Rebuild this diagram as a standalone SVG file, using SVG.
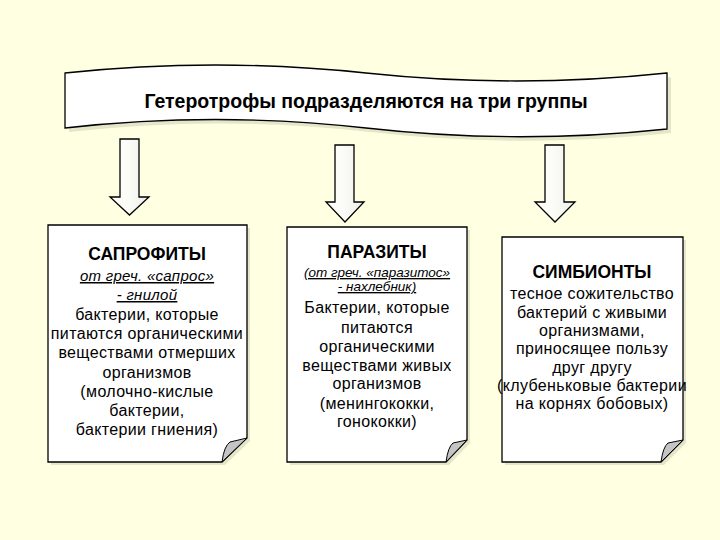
<svg xmlns="http://www.w3.org/2000/svg" width="720" height="540" viewBox="0 0 720 540">
<defs>
<linearGradient id="ag" x1="0" y1="0" x2="1" y2="0">
<stop offset="0" stop-color="#ffffff"/>
<stop offset="0.5" stop-color="#fbfbf6"/>
<stop offset="1" stop-color="#ececea"/>
</linearGradient>
</defs>
<style>
.bg{fill:#ffffe1}
.sh{fill:#000000;fill-opacity:0.1}
.ln{stroke:#000;stroke-width:1.3;stroke-linejoin:miter}
.note{fill:#ffffff}
.curl{fill:#c4c4c4;stroke:#000;stroke-width:1}
.arr{fill:url(#ag)}
text{font-family:"Liberation Sans",Arial,sans-serif;fill:#000;text-anchor:middle}
.h{font-weight:bold;font-size:19.5px}
.t{font-weight:bold;font-size:17.5px}
.b{font-size:16px;letter-spacing:0.35px}
.i{font-style:italic;text-decoration:underline;font-size:15px;letter-spacing:0.3px}
.i2{font-style:italic;text-decoration:underline;font-size:13.5px}
</style>
<rect class="bg" x="0" y="0" width="720" height="540"/>

<g id="banner">
<path class="sh" d="M69,77 Q219.5,61 370,77 T671,77 L671,133 Q520.5,149 370,132 T69,132 Z"/>
<path class="note ln" d="M65,73 Q215.5,57 366,73 T667,73 L667,129 Q516.5,145 366,128 T65,128 Z"/>
<text class="h" x="366" y="108">Гетеротрофы подразделяются на три группы</text>
</g>

<g id="connectors">
<path class="arr ln" d="M120,139 L139,139 L139,197 L149,197 L129.5,215 L110,197 L120,197 Z"/>
<path class="arr ln" d="M335,145 L354,145 L354,202 L364,202 L345,222 L326,202 L335,202 Z"/>
<path class="arr ln" d="M545,145 L564,145 L564,202 L575,202 L555,222 L535,202 L545,202 Z"/>
</g>

<g id="saprophytes">
<path class="sh" d="M51,228 L250,228 L250,441 L225,465 L51,465 Z"/>
<path class="note ln" d="M48,225 L247,225 L247,438 L222,462 L48,462 Z"/>
<path class="curl" d="M222,462 Q224,446 230,442 L247,438 Z"/>
<text class="t" x="147" y="260">САПРОФИТЫ</text>
<text class="i" x="147" y="281">от греч. «сапрос»</text>
<text class="i" x="147" y="300">- гнилой</text>
<text class="b" x="147" y="320">бактерии, которые</text>
<text class="b" x="147" y="339">питаются органическими</text>
<text class="b" x="147" y="358">веществами отмерших</text>
<text class="b" x="147" y="378">организмов</text>
<text class="b" x="147" y="397">(молочно-кислые</text>
<text class="b" x="147" y="416">бактерии,</text>
<text class="b" x="147" y="435">бактерии гниения)</text>
</g>

<g id="parasites">
<path class="sh" d="M290,230 L470,230 L470,443 L449,465 L290,465 Z"/>
<path class="note ln" d="M287,227 L467,227 L467,440 L446,462 L287,462 Z"/>
<path class="curl" d="M446,462 Q448,447 453,443 L467,440 Z"/>
<text class="t" x="377" y="258">ПАРАЗИТЫ</text>
<text class="i2" x="377" y="277">(от греч. «паразитос»</text>
<text class="i2" x="377" y="291">- нахлебник)</text>
<text class="b" x="377" y="313">Бактерии, которые</text>
<text class="b" x="377" y="333">питаются</text>
<text class="b" x="377" y="352">органическими</text>
<text class="b" x="377" y="371">веществами живых</text>
<text class="b" x="377" y="389">организмов</text>
<text class="b" x="377" y="409">(менингококки,</text>
<text class="b" x="377" y="427">гонококки)</text>
</g>

<g id="symbionts">
<path class="sh" d="M505,240 L686,240 L686,443 L664,465 L505,465 Z"/>
<path class="note ln" d="M502,237 L683,237 L683,440 L661,462 L502,462 Z"/>
<path class="curl" d="M661,462 Q663,447 668,443 L683,440 Z"/>
<text class="t" x="592" y="278">СИМБИОНТЫ</text>
<text class="b" x="592" y="299">тесное сожительство</text>
<text class="b" x="592" y="318">бактерий с живыми</text>
<text class="b" x="592" y="336">организмами,</text>
<text class="b" x="592" y="354">приносящее пользу</text>
<text class="b" x="592" y="373">друг другу</text>
<text class="b" x="592" y="391">(клубеньковые бактерии</text>
<text class="b" x="592" y="409">на корнях бобовых)</text>
</g>
</svg>
